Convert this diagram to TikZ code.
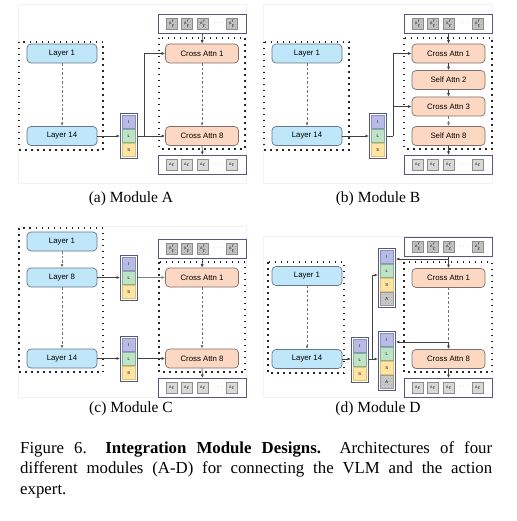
\documentclass[tikz,border=0pt]{standalone}
\usepackage{fontspec}
\setmainfont{Liberation Serif}
\newfontfamily\diagfont{Liberation Sans}
\usetikzlibrary{arrows.meta,calc,patterns}
\definecolor{layerfill}{HTML}{BFE6F9}
\definecolor{layerdraw}{HTML}{65788A}
\definecolor{attnfill}{HTML}{FCD8C2}
\definecolor{attndraw}{HTML}{7E6E6E}
\definecolor{cI}{HTML}{B8BCE4}
\definecolor{cIdraw}{HTML}{8A90C4}
\definecolor{cL}{HTML}{BFE3C6}
\definecolor{cLdraw}{HTML}{86B092}
\definecolor{cS}{HTML}{FFE4A3}
\definecolor{cSdraw}{HTML}{E2C374}
\definecolor{frame}{HTML}{55587A}
\tikzset{
  layerbox/.style={draw=layerdraw, fill=layerfill, rounded corners=4pt, minimum width=70pt, minimum height=19pt, line width=0.7pt, inner sep=0pt, font=\diagfont\fontsize{7.8}{9}\selectfont},
  attnbox/.style={draw=attndraw, fill=attnfill, rounded corners=4pt, minimum width=73pt, minimum height=19pt, line width=0.7pt, inner sep=0pt, font=\diagfont\fontsize{7.8}{9}\selectfont},
  dotbox/.style={draw=black!85, line width=1.5pt, dash pattern=on 1.5pt off 4.5pt},
  panelbg/.style={draw=black!5, line width=0.5pt},
  arr/.style={-{Latex[length=3.5pt,width=3pt]}, draw=black!75, line width=0.7pt},
  plain/.style={draw=black!75, line width=0.7pt},
  darr/.style={arr, draw=black!55, dash pattern=on 2.5pt off 2pt},
  dplain/.style={plain, draw=black!55, dash pattern=on 2.5pt off 2pt},
  stackframe/.style={draw=frame, fill=white, line width=0.9pt, minimum width=17pt, inner sep=0pt, anchor=north west},
  cell/.style={minimum width=13pt, minimum height=13pt, inner sep=0pt, anchor=north west, line width=0.5pt, font=\diagfont\fontsize{4.2}{5}\selectfont},
  tokframe/.style={draw=frame, fill=white, line width=0.9pt, minimum width=88pt, minimum height=19pt, inner sep=0pt, anchor=north west},
  tok/.style={minimum width=11pt, minimum height=11pt, inner sep=0pt, line width=0.5pt, font=\diagfont\fontsize{3.6}{4}\selectfont},
  noisytok/.style={tok, draw=black!45, preaction={fill=black!22}, pattern=crosshatch dots, pattern color=black!40},
  cleantok/.style={tok, draw=black!45, fill=black!15},
  subcap/.style={font=\fontsize{15.5}{18}\selectfont, inner sep=0pt},
}
\newcommand\mkcells[4]{% name, x, y, with A (1/0)
  \node[cell, draw=cIdraw, fill=cI] (#1-I) at (#2+2,#3+2) {I};
  \node[cell, draw=cLdraw, fill=cL] (#1-L) at (#2+2,#3+16) {L};
  \node[cell, draw=cSdraw, fill=cS] (#1-S) at (#2+2,#3+30) {S};
  \ifnum#4=1
  \node[cell, draw=black!40, preaction={fill=black!20}, pattern=crosshatch dots, pattern color=black!35] (#1-A) at (#2+2,#3+44) {A};
  \fi}
\newcommand\mkstackILS[3]{%
  \node[stackframe, minimum height=45pt] (#1) at (#2,#3) {};
  \mkcells{#1}{#2}{#3}{0}}
\newcommand\mkstackILSA[3]{%
  \node[stackframe, minimum height=59pt] (#1) at (#2,#3) {};
  \mkcells{#1}{#2}{#3}{1}}
\newcommand\mktok[5]{% name, x, y, style, label
  \node[tokframe] (#1) at (#2,#3) {};
  \node[#4] (#1-1) at (#2+14,#3+9.5) {#5};
  \node[#4] (#1-2) at (#2+29,#3+9.5) {#5};
  \node[#4] (#1-3) at (#2+45,#3+9.5) {#5};
  \node[tok, text=black!50, font=\fontsize{6}{6}\selectfont] (#1-d) at (#2+60,#3+9.5) {$\cdots$};
  \node[#4] (#1-4) at (#2+74,#3+9.5) {#5};}
\begin{document}
\begin{tikzpicture}[x=1pt,y=-1pt]
\fill[white] (0,0) rectangle (516,521);
\useasboundingbox (0,0) rectangle (516,521);
% panel backgrounds
\draw[panelbg] (18,4) rectangle (246,183);
\draw[panelbg] (263,4) rectangle (492,183);
\draw[panelbg] (18,226) rectangle (246,397);
\draw[panelbg] (263,236) rectangle (492,397);

% ---------------- Panel A
\draw[dotbox] (19,42) rectangle (103,150);
\draw[dotbox] (159,38) rectangle (245,149);
\node[layerbox] (a-l1) at (62,53.5) {Layer 1};
\node[layerbox] (a-l14) at (62,136) {Layer 14};
\mkstackILS{a-s}{120}{113}
\node[attnbox] (a-c1) at (202,53.5) {Cross Attn 1};
\node[attnbox] (a-c8) at (202,136) {Cross Attn 8};
\mktok{a-top}{158}{14}{noisytok}{A$'_t$}
\mktok{a-bot}{158}{155}{cleantok}{A$_t$}
\draw[darr] (a-l1) -- (a-l14);
\draw[arr] (a-l14.east) -- (a-l14.east -| a-s.west);
\coordinate (a-j) at (144,136);
\draw[arr] (a-s.east |- a-j) -- (a-c8.west);
\draw[arr] (a-j) |- (a-c1.west);
\draw[arr] (a-top.south) -- (a-c1.north);
\draw[darr] (a-c1) -- (a-c8);
\draw[arr] (a-c8.south) -- (a-bot.north);
\node[subcap] (cap-a) at (131,199) {(a) Module A};

% ---------------- Panel B
\draw[dotbox] (264,42) rectangle (349,150);
\draw[dotbox] (404,38) rectangle (492,149);
\node[layerbox] (b-l1) at (307,53.5) {Layer 1};
\node[layerbox] (b-l14) at (307,136) {Layer 14};
\mkstackILS{b-s}{369}{113}
\node[attnbox] (b-c1) at (448.5,53.5) {Cross Attn 1};
\node[attnbox] (b-c2) at (448.5,80) {Self Attn 2};
\node[attnbox] (b-c3) at (448.5,106.5) {Cross Attn 3};
\node[attnbox] (b-c8) at (448.5,136) {Self Attn 8};
\mktok{b-top}{404}{14}{noisytok}{A$'_t$}
\mktok{b-bot}{404}{155}{cleantok}{A$_t$}
\draw[darr] (b-l1) -- (b-l14);
\draw[arr] (b-l14.east) -- (b-l14.east -| b-s.west);
\coordinate (b-j) at (393,136);
\draw[plain] (b-s.east |- b-j) -- (b-j);
\draw[arr] (b-j) |- (b-c3.west);
\draw[arr] (b-j) |- (b-c1.west);
\draw[arr] (b-top.south -| b-c1) -- (b-c1.north);
\draw[arr] (b-c1) -- (b-c2);
\draw[arr] (b-c2) -- (b-c3);
\draw[darr] (b-c3) -- (b-c8);
\draw[arr] (b-c8.south) -- (b-bot.north -| b-c8);
\node[subcap] (cap-b) at (378,199) {(b) Module B};

% ---------------- Panel C
\draw[dotbox] (19,228) rectangle (103,372);
\draw[dotbox] (159,262) rectangle (245,372);
\node[layerbox] (c-l1) at (62,241.5) {Layer 1};
\node[layerbox] (c-l8) at (62,277.5) {Layer 8};
\node[layerbox] (c-l14) at (62,358.5) {Layer 14};
\mkstackILS{c-s1}{120}{255}
\mkstackILS{c-s2}{120}{336}
\node[attnbox] (c-c1) at (202,277.5) {Cross Attn 1};
\node[attnbox] (c-c8) at (202,358.5) {Cross Attn 8};
\mktok{c-top}{158}{239}{noisytok}{A$'_t$}
\mktok{c-bot}{158}{378}{cleantok}{A$_t$}
\draw[darr] (c-l1) -- (c-l8);
\draw[darr] (c-l8) -- (c-l14);
\draw[arr] (c-l8.east) -- (c-l8.east -| c-s1.west);
\draw[arr, draw=black!50] (c-s1.east |- c-c1) -- (c-c1.west);
\draw[arr] (c-l14.east) -- (c-l14.east -| c-s2.west);
\draw[arr] (c-s2.east |- c-c8) -- (c-c8.west);
\draw[arr] (c-top.south) -- (c-c1.north);
\draw[darr] (c-c1) -- (c-c8);
\draw[arr] (c-c8.south) -- (c-bot.north);
\node[subcap] (cap-c) at (131,409) {(c) Module C};

% ---------------- Panel D
\draw[dotbox] (268,262) rectangle (344,373);
\draw[dotbox] (404,262) rectangle (492,372);
\node[layerbox] (d-l1) at (307,276) {Layer 1};
\node[layerbox] (d-l14) at (307,359) {Layer 14};
\mkstackILS{d-s}{351}{337}
\mkstackILSA{d-t}{378}{248}
\mkstackILSA{d-b}{378}{331}
\node[attnbox] (d-c1) at (448.5,278) {Cross Attn 1};
\node[attnbox] (d-c8) at (448.5,359) {Cross Attn 8};
\mktok{d-top}{404}{237}{noisytok}{A$'_t$}
\mktok{d-bot}{404}{378}{cleantok}{A$_t$}
\draw[darr] (d-l1) -- (d-l14);
\draw[arr] (d-l14.east) -- (d-l14.east -| d-s.west);
\coordinate (d-j1) at (372,359);
\coordinate (d-j2) at (372,275);
\draw[plain] (d-s.east |- d-j1) -- (d-j1);
\draw[arr] (d-j1) -- (d-j1 -| d-b.west);
\draw[arr] (d-j1) -- (d-j2) -- (d-j2 -| d-t.west);
\coordinate (d-j3) at (448.5,259);
\draw[plain] (d-top.south -| d-j3) -- (d-j3);
\draw[arr] (d-j3) -- (d-c1.north);
\draw[arr] (d-j3) -- (d-j3 -| d-t.east);
\coordinate (d-j4) at (448.5,342);
\draw[dplain] (d-c1.south) -- (d-j4);
\draw[arr] (d-j4) -- (d-c8.north);
\draw[arr] (d-j4) -- (d-j4 -| d-b.east);
\draw[arr] (d-c8.south) -- (d-bot.north -| d-c8);
\node[subcap] (cap-d) at (378,409) {(d) Module D};

% ---------------- Figure caption
\node[anchor=north west, inner sep=0pt, text width=472pt, align=justify, font=\fontsize{16.8}{20.5}\selectfont] (figcap) at (20,441)
{Figure 6.\hspace{1.1em}\textbf{Integration Module Designs.}\hspace{1.1em}Architectures of four\linebreak different modules (A-D) for connecting the VLM and the action\linebreak expert.};
\end{tikzpicture}
\end{document}
